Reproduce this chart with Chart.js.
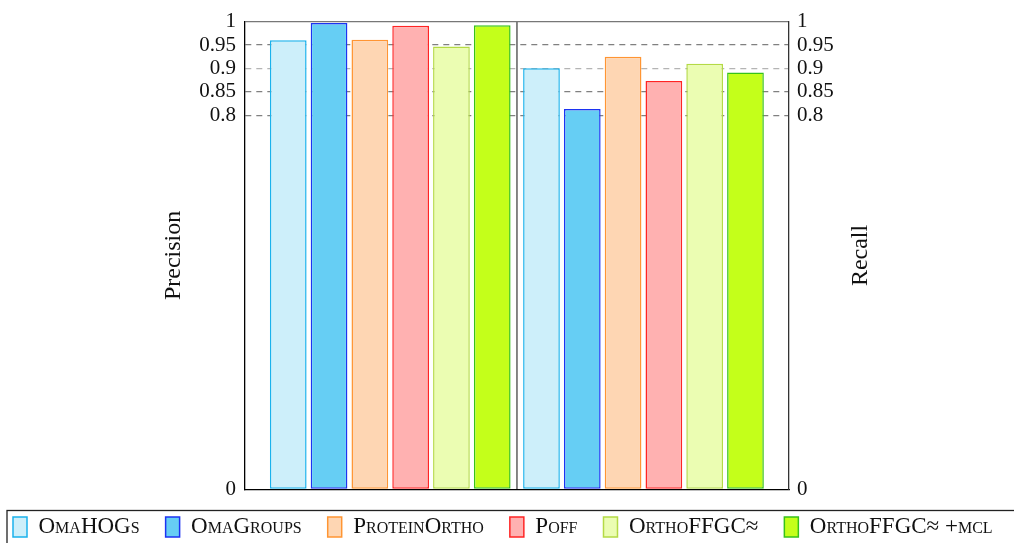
<!DOCTYPE html>
<html>
<head>
<meta charset="utf-8">
<script src="https://cdn.jsdelivr.net/npm/chart.js@4/dist/chart.umd.min.js"></script>
<style>
  html, body { margin: 0; padding: 0; background: #fff; overflow: hidden; }
  #wrap { width: 1014px; height: 543px; position: relative; }
</style>
</head>
<body>
<div id="wrap"><canvas id="chart" width="1014" height="543"></canvas></div>
<script>
// Methods compared, with precision and recall for each
const methods = ['OmaHOGs', 'OmaGroups', 'ProteinOrtho', 'Poff', 'OrthoFFGC≈', 'OrthoFFGC≈ +mcl'];
const precision = [0.960, 0.997, 0.961, 0.991, 0.947, 0.992];
const recall = [0.900, 0.813, 0.925, 0.873, 0.910, 0.891];

// Bar fill and outline colours per method
const fillColors = ['#cdeffa', '#66cef4', '#fed6b3', '#ffb1b1', '#ebfdb2', '#c4ff1a'];
const lineColors = ['#1ab2ec', '#1c33f2', '#ff9533', '#ff2525', '#b4da45', '#36c21a'];

// Value axis ticks
const yTickValues = [0, 0.8, 0.85, 0.9, 0.95, 1];
const yTickLabels = ['0', '0.8', '0.85', '0.9', '0.95', '1'];

// Two panels (precision | recall) share one linear x axis, measured in bar slots
const PANEL_WIDTH = 6.667;
const LEFT_FIRST = 1.06;
const RIGHT_FIRST = PANEL_WIDTH + 0.6;

const SERIF = "'Liberation Serif', 'DejaVu Serif', serif";
const PAD_LEFT = -13;

const fixedTicks = (scale) => { scale.ticks = yTickValues.map(v => ({ value: v })); };

// Rotated title for the right-hand axis, reading bottom to top like the left one
const rightTitle = {
  id: 'rightTitle',
  afterDraw(chart) {
    const s = chart.scales.y2;
    const t = s.options.title;
    const { ctx, chartArea } = chart;
    ctx.save();
    ctx.translate(s.left + 72, (chartArea.top + chartArea.bottom) / 2);
    ctx.rotate(-Math.PI / 2);
    ctx.font = `${t.font.size}px ${SERIF}`;
    ctx.fillStyle = t.color;
    ctx.textAlign = 'center';
    ctx.textBaseline = 'middle';
    ctx.fillText(t.text, 0, 0);
    ctx.restore();
  }
};

// Frame around the legend row
const legendFrame = {
  id: 'legendFrame',
  afterDraw(chart) {
    const lg = chart.legend;
    if (!lg || !lg.legendHitBoxes || !lg.legendHitBoxes.length) return;
    const hb = lg.legendHitBoxes[0];
    const { ctx } = chart;
    ctx.save();
    ctx.strokeStyle = '#222';
    ctx.lineWidth = 1.3;
    ctx.strokeRect(hb.left - 6, hb.top - 5, chart.width + 40, 80);
    ctx.restore();
  }
};

const gridColor = (c) => {
  const v = c.tick ? c.tick.value : null;
  if (v === 0) return 'rgba(0,0,0,0)';
  if (v === 1) return '#777777';
  if (v === 0.9) return '#b4b4b4';
  return '#808080';
};

new Chart(document.getElementById('chart'), {
  type: 'bar',
  data: {
    datasets: methods.map((m, i) => ({
      label: m,
      data: [
        { x: LEFT_FIRST + i, y: precision[i] },
        { x: RIGHT_FIRST + i, y: recall[i] }
      ],
      backgroundColor: fillColors[i],
      borderColor: lineColors[i],
      borderWidth: 1.5,
      borderSkipped: false,
      grouped: false,
      barPercentage: 0.9,
      categoryPercentage: 1
    }))
  },
  options: {
    responsive: false,
    animation: false,
    devicePixelRatio: 1,
    layout: { padding: { left: PAD_LEFT, right: -20, top: 20.7, bottom: -5.5 } },
    plugins: {
      tooltip: { enabled: false },
      legend: {
        position: 'bottom',
        align: 'start',
        labels: {
          boxWidth: 14,
          boxHeight: 20,
          padding: 26,
          color: '#111',
          font: { size: 23, weight: 'small-caps', family: SERIF }
        }
      }
    },
    scales: {
      x: {
        type: 'linear',
        min: 0,
        max: 2 * PANEL_WIDTH,
        offset: false,
        afterBuildTicks: (s) => { s.ticks = [{ value: PANEL_WIDTH }]; },
        afterFit: (s) => { s.height = 0.2; },
        ticks: { display: false },
        grid: { offset: false, drawTicks: false, color: '#808080', lineWidth: 1.9 },
        border: { color: '#000', width: 1.3 }
      },
      y: {
        position: 'left',
        min: 0,
        max: 1,
        afterBuildTicks: fixedTicks,
        afterFit: (s) => { s.width = 245 - PAD_LEFT; },
        ticks: {
          padding: 9,
          color: '#111',
          font: { size: 21, family: SERIF },
          callback: (v, i) => yTickLabels[i]
        },
        grid: { drawTicks: false, color: gridColor, lineWidth: 1.2 },
        border: {
          color: '#000',
          width: 1.3,
          dash: (c) => (c.tick && c.tick.value !== 0 && c.tick.value !== 1 ? [6, 5] : [])
        },
        title: {
          display: true,
          text: 'Precision',
          color: '#111',
          font: { size: 24, family: SERIF },
          padding: { top: 174 - PAD_LEFT - 14.4, bottom: 0 }
        }
      },
      y2: {
        position: 'right',
        min: 0,
        max: 1,
        afterBuildTicks: fixedTicks,
        afterFit: (s) => { s.width = 245; },
        ticks: {
          padding: 8,
          color: '#111',
          font: { size: 21, family: SERIF },
          callback: (v, i) => yTickLabels[i]
        },
        grid: { display: false, drawTicks: false },
        border: { color: '#333', width: 1.3 },
        title: { display: false, text: 'Recall', color: '#111', font: { size: 24, family: SERIF } }
      }
    }
  },
  plugins: [rightTitle, legendFrame]
});
</script>
</body>
</html>
